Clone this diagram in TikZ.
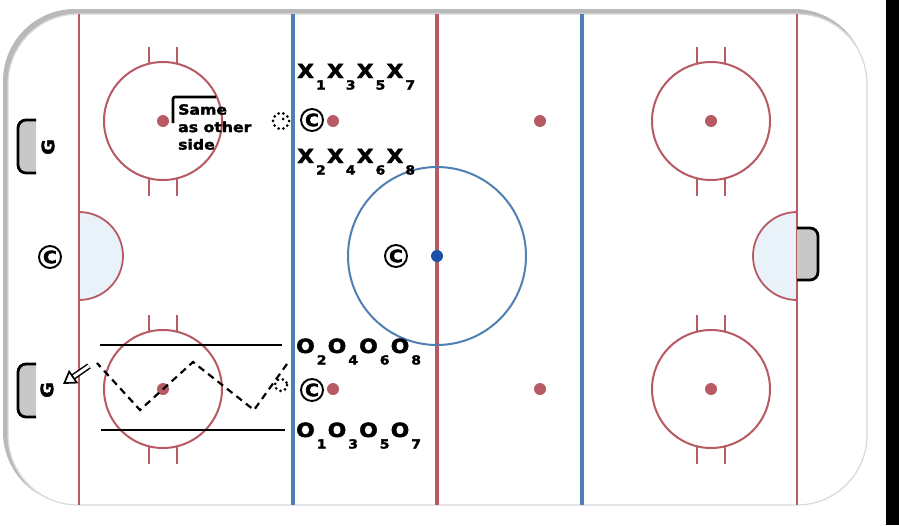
\documentclass[tikz,border=0pt]{standalone}
\usepackage{fontspec}
\newfontfamily\lblfont[FakeStretch=1.12, BoldFeatures={FakeBold=2.2}]{DejaVu Sans}
\usetikzlibrary{arrows.meta}

\definecolor{rinkred}{RGB}{184,90,100}
\definecolor{rinkblue}{RGB}{80,128,178}
\definecolor{creaseblue}{RGB}{232,242,248}
\definecolor{netgray}{RGB}{200,200,200}
\definecolor{dotblue}{RGB}{30,80,170}

\tikzset{
	coach/.style={circle, draw, line width=1.9pt, minimum size=22pt, inner sep=0pt, font=\lblfont\bfseries\fontsize{17}{17}\selectfont},
	row/.style={anchor=base west, inner sep=0pt, font=\lblfont\bfseries\fontsize{19.5}{19.5}\selectfont},
	goalie/.style={rotate=90, inner sep=0pt, font=\lblfont\bfseries\fontsize{17}{17}\selectfont},
	net/.style={fill=netgray, draw=black, line width=2.8pt, rounded corners=8pt},
	pucks/.style={draw, line width=3pt, dash pattern=on 0pt off 5pt, line cap=round},
	shot/.style={double, double distance=3pt, line width=1.5pt, -{Triangle[open, length=13pt, width=16pt, line width=1.7pt]}}
}
\newcommand{\nr}[1]{\hspace{2pt}\raisebox{-11.5pt}{\fontsize{12.5}{12.5}\selectfont #1}\hspace{1.2pt}}

\begin{document}
\begin{tikzpicture}[x=1pt, y=-1pt]
		\useasboundingbox (0,0) rectangle (899,525);
		\fill[white] (0,0) rectangle (899,525);

		% boards
		\fill[gray!55, rounded corners=72pt] (3,9) rectangle (866,504);
		\fill[white, rounded corners=70pt] (8,14) rectangle (868,506);
		\draw[gray!30, line width=1.2pt, rounded corners=70pt] (8,14) rectangle (867,505);
		\fill[black] (886,0) rectangle (899,525);

		% creases
		\filldraw[fill=creaseblue, draw=rinkred, line width=1.8pt] (79,212) arc [start angle=-90, end angle=90, radius=44] -- cycle;
		\filldraw[fill=creaseblue, draw=rinkred, line width=1.8pt] (797,212) arc [start angle=-90, end angle=-270, radius=44] -- cycle;

		% lines
		\draw[rinkred, line width=2pt] (79,14) -- (79,505);
		\draw[rinkred, line width=2pt] (797,14) -- (797,505);
		\draw[rinkblue, line width=3.5pt] (293,14) -- (293,505);
		\draw[rinkblue, line width=3.5pt] (582,14) -- (582,505);
		\draw[rinkred, line width=3.5pt] (437,14) -- (437,505);
		\draw[rinkblue, line width=2pt] (437,256) circle [radius=89];
		\fill[dotblue] (437,256) circle [radius=6];

		% faceoff circles
		\foreach \cx/\cy in {163/121, 163/389, 711/121, 711/389} {
			\draw[rinkred, line width=2pt] (\cx,\cy) circle [radius=59];
			\foreach \dx in {-14,14} {
				\draw[rinkred, line width=2pt] (\cx+\dx,\cy-74) -- (\cx+\dx,\cy-57);
				\draw[rinkred, line width=2pt] (\cx+\dx,\cy+57) -- (\cx+\dx,\cy+75);
			}
			\fill[rinkred] (\cx,\cy) circle [radius=6];
		}
		\foreach \cx/\cy in {333/121, 333/389, 540/121, 540/389}
			\fill[rinkred] (\cx,\cy) circle [radius=6];

		% nets
		\path[net] (36,120) -- (18,120) -- (18,173) -- (36,173);
		\path[net] (36,364) -- (18,364) -- (18,417) -- (36,417);
		\path[net] (797,228) -- (818,228) -- (818,280) -- (797,280);
		\node[goalie] (g1) at (48,147) {G};
		\node[goalie] (g2) at (47,390) {G};

		% coaches and pucks
		\node[coach] (c1) at (50,257) {C};
		\node[coach] (c2) at (396,256) {C};
		\node[coach] (c3) at (312,120) {C};
		\node[coach] (c4) at (312,390) {C};
		\draw[pucks] (281,121) circle [radius=8];
		\fill (283,119) circle [radius=1.5];
		\draw[pucks] (281,385) circle [radius=6];

		% players
		\node[row] (xtop) at (297,78) {X\nr{1}X\nr{3}X\nr{5}X\nr{7}};
		\node[row] (xbot) at (297,163) {X\nr{2}X\nr{4}X\nr{6}X\nr{8}};
		\node[row] (otop) at (296,353) {O\nr{2}O\nr{4}O\nr{6}O\nr{8}};
		\node[row] (obot) at (296,437) {O\nr{1}O\nr{3}O\nr{5}O\nr{7}};

		% note
		\node[anchor=north west, align=left, inner sep=0pt, font=\lblfont\bfseries\fontsize{14}{17.5}\selectfont] (note) at (178,104) {Same\\as other\\side};
		\draw[line width=2.6pt, rounded corners=2pt] (173,123) |- (216,97);

		% drill
		\coordinate (topW) at (100,345);
		\coordinate (topE) at (282,345);
		\coordinate (botW) at (101,430);
		\coordinate (botE) at (285,430);
		\draw[line width=2.4pt] (topW) -- (topE);
		\draw[line width=2.4pt] (botW) -- (botE);
		\coordinate (z0) at (287,364);
		\coordinate (z1) at (254,410);
		\coordinate (z2) at (193,362);
		\coordinate (z3) at (140,410);
		\coordinate (z4) at (97,363);
		\draw[line width=2.2pt, dash pattern=on 7pt off 5pt] (z0) -- (z1) -- (z2) -- (z3) -- (z4);
		\coordinate (s0) at (89,366);
		\coordinate (s1) at (63,384);
		\draw[shot] (s0) -- (s1);

\end{tikzpicture}
\end{document}
